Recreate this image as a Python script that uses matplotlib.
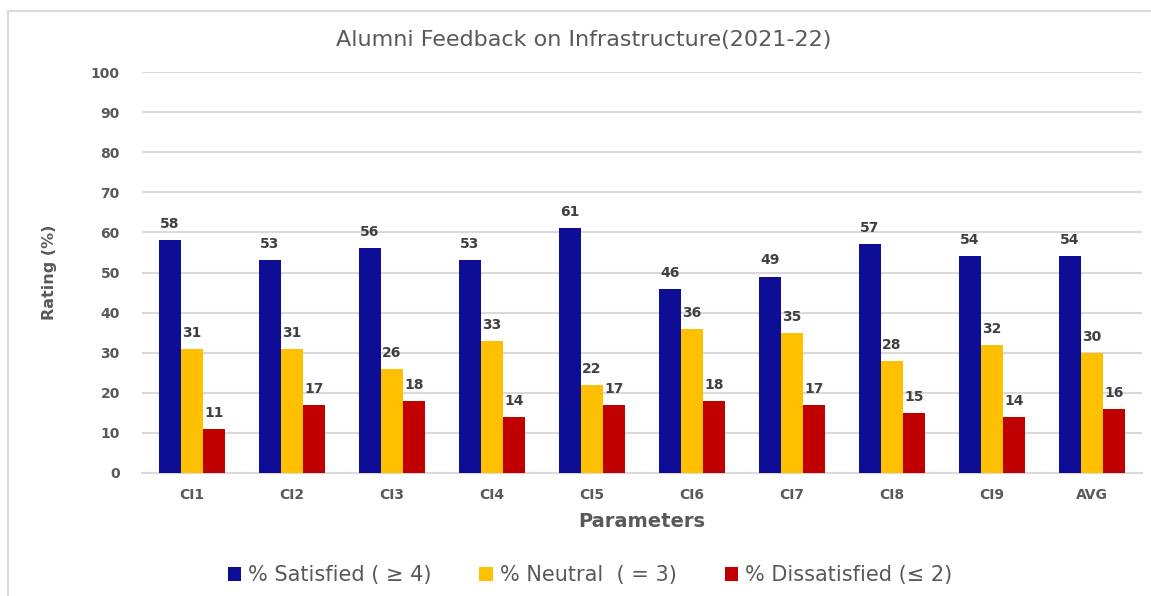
import matplotlib
matplotlib.use("Agg")
import matplotlib.pyplot as plt
import numpy as np
from matplotlib.patches import Rectangle

categories = ["CI1", "CI2", "CI3", "CI4", "CI5", "CI6", "CI7", "CI8", "CI9", "AVG"]
satisfied = [58, 53, 56, 53, 61, 46, 49, 57, 54, 54]
neutral = [31, 31, 26, 33, 22, 36, 35, 28, 32, 30]
dissatisfied = [11, 17, 18, 14, 17, 18, 17, 15, 14, 16]
series_labels = ["% Satisfied ( \u2265 4)", "% Neutral  ( = 3)", "% Dissatisfied (\u2264 2)"]
colors = ["#0D0D96", "#FFC000", "#C00000"]
yticks = [0, 10, 20, 30, 40, 50, 60, 70, 80, 90, 100]

txt = "#595959"
fig = plt.figure(figsize=(11.51, 5.96), dpi=100)
ax = fig.add_axes([142/1151, 1-473/596, 1000/1151, 401/596])

x = np.arange(len(categories))
w = 0.22
for i, (vals, lab, c) in enumerate(zip([satisfied, neutral, dissatisfied], series_labels, colors)):
    bars = ax.bar(x + (i-1)*w, vals, width=w, color=c, label=lab, zorder=3)
    for b, v in zip(bars, vals):
        ax.annotate(str(v), (b.get_x() + b.get_width()/2, v), xytext=(0, 6.5),
                    textcoords="offset points", ha="center", va="bottom",
                    fontsize=10, fontweight="bold", color="#404040")

ax.set_xlim(-0.5, len(categories)-0.5)
ax.set_ylim(0, 100)
ax.set_yticks(yticks)
ax.set_xticks(x)
ax.set_xticklabels(categories)
ax.tick_params(length=0, labelsize=10, labelcolor=txt)
ax.tick_params(axis="x", pad=10.5)
ax.tick_params(axis="y", pad=16)
for lbl in ax.get_xticklabels() + ax.get_yticklabels():
    lbl.set_fontweight("bold")
ax.grid(axis="y", color="#d9d9d9", lw=1.5, zorder=0)
for s in ["top", "right", "left"]:
    ax.spines[s].set_visible(False)
ax.spines["bottom"].set_color("#d9d9d9")
ax.spines["bottom"].set_linewidth(1.5)

ax.set_ylabel("Rating (%)", fontsize=11.5, fontweight="bold", color=txt, labelpad=24)
ax.set_xlabel("Parameters", fontsize=14, fontweight="bold", color=txt, labelpad=7.5)
fig.text(584/1151, 1-40/596, "Alumni Feedback on Infrastructure(2021-22)", ha="center", va="center",
         fontsize=16, color=txt)

leg = fig.legend(loc="center", bbox_to_anchor=(590/1151, 1-575/596), ncol=3, frameon=False,
                 handlelength=0.65, handleheight=0.65, handletextpad=0.33, columnspacing=2.3,
                 prop={"size": 15})
for t in leg.get_texts():
    t.set_color(txt)

fig.patches.append(Rectangle((8/1151, -0.1), 1.2, 1-11/596+0.1, transform=fig.transFigure,
                             fill=False, edgecolor="#d9d9d9", lw=1.5))
fig.savefig("out.png", dpi=100)
